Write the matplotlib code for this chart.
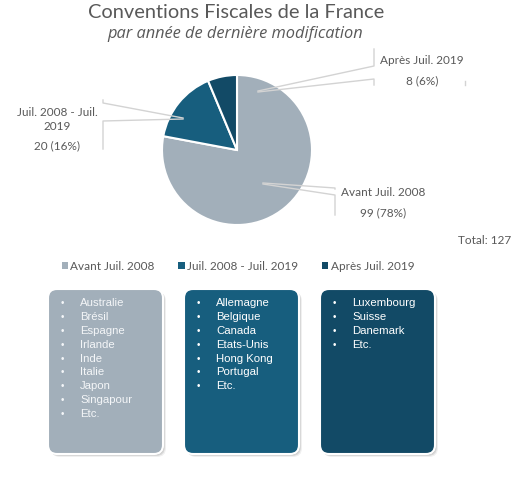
import matplotlib
matplotlib.use("Agg")
from matplotlib import pyplot as plt
from matplotlib.patches import FancyBboxPatch, Patch

# data
categories = ["Avant Juil. 2008", "Juil. 2008 - Juil. 2019", "Après Juil. 2019"]
counts = [99, 20, 8]
percents = [78, 16, 6]
colors = ["#A2AFBA", "#175E7E", "#124A66"]
label_lines = [["Avant Juil. 2008"], ["Juil. 2008 - Juil.", "2019"], ["Après Juil. 2019"]]
countries = [
    ["Australie", "Brésil", "Espagne", "Irlande", "Inde", "Italie", "Japon", "Singapour", "Etc."],
    ["Allemagne", "Belgique", "Canada", "Etats-Unis", "Hong Kong", "Portugal", "Etc."],
    ["Luxembourg", "Suisse", "Danemark", "Etc."],
]
total = sum(counts)

W, H = 521, 481
fig = plt.figure(figsize=(W / 100, H / 100), dpi=100)
fig.patch.set_facecolor("white")

font = "Lato"
grey_txt = "#595959"

# pie axes, center ~ (237,151), radius 75 px
cx, cy, r = 237, 151, 75
pax = fig.add_axes([(cx - r) / W, 1 - (cy + r) / H, 2 * r / W, 2 * r / H])
wedges, _ = pax.pie(counts, colors=colors, startangle=90, counterclock=False,
                    wedgeprops=dict(edgecolor="white", linewidth=1.5))
pax.set_xlim(-1, 1)
pax.set_ylim(-1, 1)
pax.set_aspect("equal")

# overlay in pixel coordinates
ov = fig.add_axes([0, 0, 1, 1], zorder=5)
ov.set_xlim(0, W)
ov.set_ylim(H, 0)
ov.axis("off")
ov.patch.set_alpha(0)

ov.text(236, 12, "Conventions Fiscales de la France", ha="center", va="center",
        fontsize=14.4, color=grey_txt, family=font)
ov.text(235, 34, "par année de dernière modification", ha="center", va="center",
        fontsize=11.8, color=grey_txt, family="Open Sans", style="italic")

# data labels with leader lines
lc = "#D3D3D3"
lbl_pos = [(383, 193), (57, 112), (422, 61)]
for i, (x, y) in enumerate(lbl_pos):
    lines = label_lines[i]
    for k, line in enumerate(lines):
        ov.text(x, y + 14 * k, line, ha="center", va="center", fontsize=8.5,
                color=grey_txt, family=font)
    ov.text(x, y + 14 * (len(lines) - 1) + 20, f"{counts[i]} ({percents[i]}%)",
            ha="center", va="center", fontsize=8.5, color=grey_txt, family=font)

# Avant
ov.plot([263, 335, 335], [184, 189, 190], color=lc, lw=1)
ov.plot([263, 335, 335], [185, 196, 216], color=lc, lw=1)
# Juil
ov.plot([183, 103, 103], [119, 104, 101], color=lc, lw=1)
ov.plot([183, 103, 103], [120, 122, 150], color=lc, lw=1)
# Apres
ov.plot([258, 374, 374], [92, 67, 50], color=lc, lw=1)
ov.plot([258, 374, 374], [93, 80, 86], color=lc, lw=1)
ov.plot([465, 465], [82, 86], color=lc, lw=1)

ov.text(511, 241, f"Total: {total}", ha="right", va="center", fontsize=8.5,
        color=grey_txt, family=font)

# legend
handles = [Patch(facecolor=c, edgecolor="none") for c in colors]
leg = fig.legend(handles, categories, loc="center", bbox_to_anchor=(238 / W, 1 - 267 / H),
                 ncol=3, frameon=False, handlelength=0.55, handleheight=0.55,
                 handletextpad=0.2, columnspacing=2.0,
                 prop=dict(family=font, size=8.5))
for t in leg.get_texts():
    t.set_color(grey_txt)

# boxes of countries
box_x = [48, 184, 320]
box_w, box_top, box_h = 115, 290, 165
for i, names in enumerate(countries):
    x0 = box_x[i]
    for s, a in [(3, 0.06), (2, 0.1), (1, 0.12)]:
        shadow = FancyBboxPatch((x0 + s, box_top + s), box_w, box_h,
                                boxstyle="round,pad=0,rounding_size=9",
                                facecolor="#000000", alpha=a, edgecolor="none")
        ov.add_patch(shadow)
    box = FancyBboxPatch((x0, box_top), box_w, box_h,
                         boxstyle="round,pad=0,rounding_size=9",
                         facecolor=colors[i], edgecolor="white", linewidth=1.5)
    ov.add_patch(box)
    tc = "#F4F6F8" if i == 0 else "white"
    for j, name in enumerate(names):
        yy = box_top + 13 + j * 13.9
        ov.text(x0 + 14, yy, "•", ha="center", va="center", fontsize=7,
                color=tc, family="Liberation Sans")
        ov.text(x0 + 32, yy, name, ha="left", va="center", fontsize=8.2,
                color=tc, family="Liberation Sans")

fig.savefig("out.png", dpi=100, facecolor="white")
